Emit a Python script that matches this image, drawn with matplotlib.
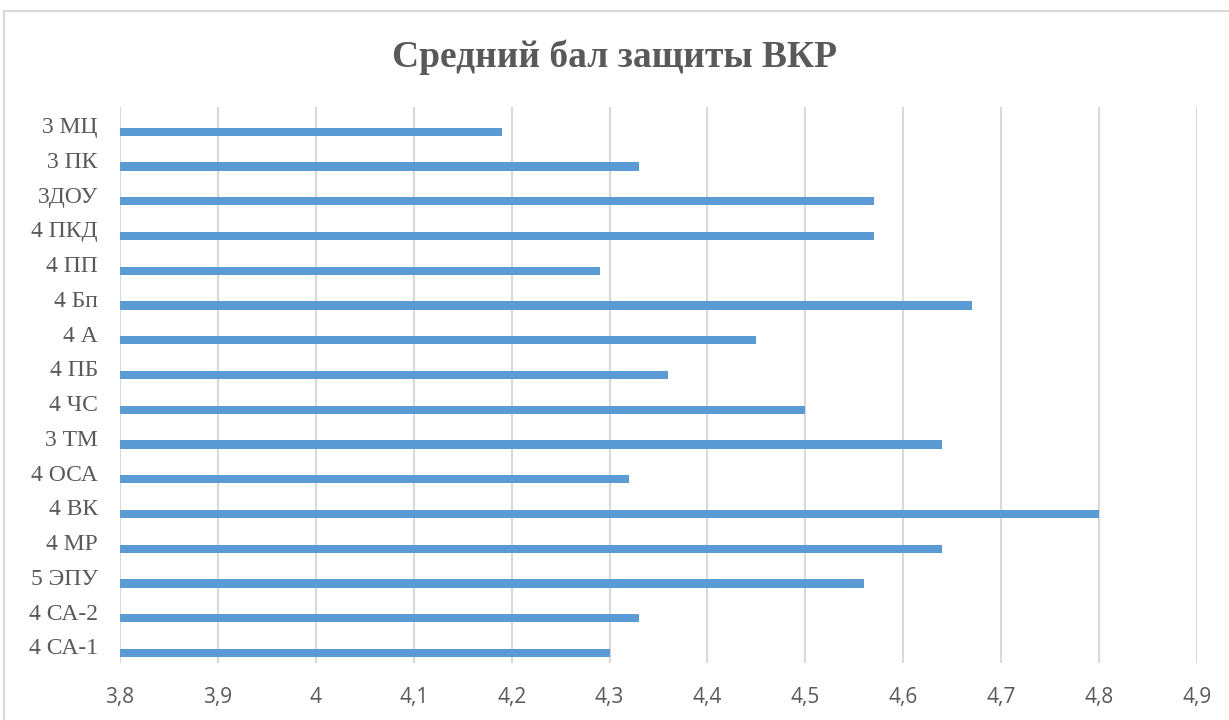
import matplotlib

matplotlib.use("Agg")

import matplotlib.pyplot as plt  # noqa: E402
from matplotlib.patches import Rectangle  # noqa: E402
from matplotlib.ticker import FuncFormatter  # noqa: E402

groups = [
    "4 СА-1", "4 СА-2", "5 ЭПУ", "4 МР", "4 ВК", "4 ОСА", "3 ТМ", "4 ЧС",
    "4 ПБ", "4 А", "4 Бп", "4 ПП", "4 ПКД", "3ДОУ", "3 ПК", "3 МЦ",
]
scores = [
    4.30, 4.33, 4.56, 4.64, 4.80, 4.32, 4.64, 4.50,
    4.36, 4.45, 4.67, 4.29, 4.57, 4.57, 4.33, 4.19,
]
x_ticks = [3.8, 3.9, 4.0, 4.1, 4.2, 4.3, 4.4, 4.5, 4.6, 4.7, 4.8, 4.9]

W, H = 1229, 720
fig = plt.figure(figsize=(W / 100, H / 100), dpi=100)
fig.patch.set_facecolor("white")

# chart border (cut by the right and bottom edge of the picture)
fig.patches.append(
    Rectangle((4 / W, -0.01), 1.02, 1 - 11 / H + 0.01, transform=fig.transFigure,
              fill=False, edgecolor="#d9d9d9", linewidth=1.5)
)

ax = fig.add_axes([120 / W, 1 - 663 / H, (1197 - 120) / W, (663 - 107) / H])

ypos = [i - 0.21 for i in range(len(groups))]
ax.barh(ypos, [s - 3.8 for s in scores], left=3.8, height=0.24,
        color="#5b9bd5", zorder=3)

ax.set_xlim(3.8, 4.9)
ax.set_ylim(-0.5, len(groups) - 0.5)
ax.set_xticks(x_ticks)
ax.xaxis.set_major_formatter(
    FuncFormatter(lambda v, p: ("%g" % round(v, 1)).replace(".", ","))
)
ax.set_yticks([i - 0.02 for i in range(len(groups))])
ax.set_yticklabels(groups, family="Liberation Serif", fontsize=17,
                   color="#595959")
for lab in ax.get_xticklabels():
    lab.set_family("Open Sans")
    lab.set_fontsize(15)
    lab.set_color("#595959")

ax.grid(axis="x", color="#d9d9d9", linewidth=1.5, zorder=0)
ax.tick_params(length=0)
ax.tick_params(axis="x", pad=17)
ax.tick_params(axis="y", pad=16)
for s in ax.spines.values():
    s.set_visible(False)

fig.text(0.5, 1 - 57 / H, "Средний бал защиты ВКР", ha="center", va="center",
         family="Liberation Serif", fontweight="bold", fontsize=27,
         color="#595959")

fig.savefig("out.png", dpi=100)
